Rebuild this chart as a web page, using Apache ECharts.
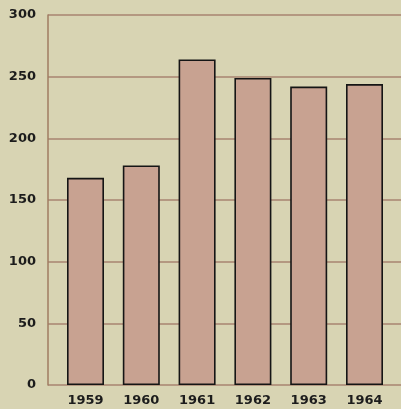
<!DOCTYPE html>
<html>
<head>
<meta charset="utf-8">
<script src="https://cdn.jsdelivr.net/npm/echarts@6/dist/echarts.min.js"></script>
<style>
html,body{margin:0;padding:0;background:#d8d4b3;}
#c{width:401px;height:409px;}
</style>
</head>
<body>
<div id="c"></div>
<script>
const years = ['1959', '1960', '1961', '1962', '1963', '1964'];
const values = [168, 178, 264, 249, 242, 244];
const yTicks = [0, 50, 100, 150, 200, 250, 300];

const chart = echarts.init(document.getElementById('c'), null, {renderer: 'canvas'});
const labelFont = {fontFamily: 'DejaVu Sans', fontWeight: 'bold', fontSize: 13, color: '#1c1c1c'};
chart.setOption({
  backgroundColor: '#d8d4b3',
  animation: false,
  grid: [
    {left: 48, right: 0, top: 15, bottom: 24},
    {left: 57.6, right: 8.6, top: 15, bottom: 24}
  ],
  xAxis: [
    {gridIndex: 0, type: 'value', show: false, min: 0, max: 1},
    {gridIndex: 1, type: 'category', data: years,
     axisLine: {show: false}, axisTick: {show: false},
     axisLabel: Object.assign({margin: 9}, labelFont)}
  ],
  yAxis: [
    {gridIndex: 0, type: 'value', min: yTicks[0], max: yTicks[yTicks.length - 1], interval: 50,
     axisLine: {show: true, lineStyle: {color: '#a07c62', width: 1.5}},
     axisTick: {show: false},
     axisLabel: Object.assign({margin: 12}, labelFont),
     splitLine: {show: true, lineStyle: {color: '#a98470', width: 1.5}}},
    {gridIndex: 1, type: 'value', min: yTicks[0], max: yTicks[yTicks.length - 1], interval: 50, show: false,
     splitLine: {show: false}}
  ],
  series: [{
    type: 'bar',
    xAxisIndex: 1,
    yAxisIndex: 1,
    data: values,
    barWidth: 37,
    itemStyle: {color: '#c8a291', borderColor: '#151515', borderWidth: 1.6}
  }]
});
</script>
</body>
</html>
